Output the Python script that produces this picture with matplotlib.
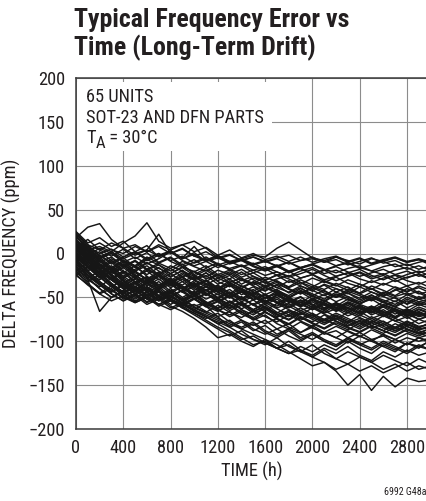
import matplotlib
matplotlib.use("Agg")
import matplotlib.pyplot as plt
from matplotlib.patches import Rectangle

# ---------------- data ----------------
time_h = [0, 100, 200, 300, 400, 500, 600, 700, 800, 900, 1000, 1100, 1200, 1300, 1400,
          1500, 1600, 1700, 1800, 1900, 2000, 2100, 2200, 2300, 2400, 2500, 2600, 2700,
          2800, 2900, 3000]

x_ticks = [0, 400, 800, 1200, 1600, 2000, 2400, 2800]
y_ticks = [-200, -150, -100, -50, 0, 50, 100, 150, 200]
y_tick_labels = ["\u2212200", "\u2212150", "\u2212100", "\u221250", "0", "50", "100", "150", "200"]

units_upper = [
    [18, 30, 34, 16, 6, 10, 2, 8, 0, 5, -3, 2, -6, -2, -8, -4, -9, -5, -2, -8, -6, -10, -4, -8, -12, -6, -9, -5, -10, -7, -11],
    [10, 4, 8, 2, 12, 20, 35, 14, 6, 10, 2, 7, -2, 4, -5, 0, -7, -3, -9, -4, -10, -6, -3, -9, -5, -11, -7, -4, -9, -6, -10],
    [5, 0, -4, 2, -6, 0, 4, -3, 2, -5, 8, -7, -3, -9, -6, -2, -4, 6, 13, 4, -5, -8, -4, -10, -6, -12, -8, -5, -10, -7, -13],
    [15, 6, 12, 4, 0, 8, 2, 10, 4, 10, 14, 6, -5, -1, -8, -4, -10, -6, -12, -8, -4, -10, -7, -13, -9, -5, -11, -8, -14, -10, -7],
    [-5, 8, 0, 5, -4, 2, -8, -2, 3, -6, -1, -9, -5, -11, -7, -13, -9, -14, -10, -16, -12, -8, -14, -11, -17, -13, -9, -15, -12, -18, -14],
    [22, 10, 4, 12, 6, -2, 4, 22, 0, 6, -3, -8, -2, -10, -6, -12, -8, -15, -10, -17, -13, -19, -14, -10, -16, -20, -15, -12, -18, -14, -20],
    [0, -8, -2, -10, -4, 2, -6, 0, -8, -3, -11, -6, -13, -9, -15, -11, -18, -13, -20, -16, -12, -18, -22, -17, -14, -20, -24, -19, -16, -22, -18],
    [10, 2, -6, 0, -10, -4, -12, -6, 2, -8, -14, -9, -16, -11, -7, -14, -19, -15, -21, -17, -23, -19, -15, -21, -26, -22, -18, -24, -20, -26, -22],
    [-10, -2, 6, 0, -8, -14, -6, 0, -9, -15, -10, -4, -12, -17, -13, -19, -15, -21, -26, -20, -16, -23, -19, -25, -21, -27, -23, -29, -24, -20, -26],
    [25, 12, 18, 8, 14, 2, 9, -4, 3, -6, 1, -9, -3, -12, -8, -15, -20, -14, -22, -17, -24, -19, -26, -22, -18, -25, -30, -24, -28, -23, -29],
    [-15, -5, -12, -18, -8, -14, -4, -11, -17, -9, -15, -20, -13, -18, -24, -19, -25, -21, -27, -23, -18, -25, -31, -26, -22, -29, -25, -32, -27, -24, -30],
    [8, 16, 4, -3, 5, -6, 1, -10, -4, -13, -7, -16, -11, -19, -14, -22, -17, -25, -20, -28, -24, -30, -26, -22, -29, -33, -28, -25, -31, -35, -30],
    [-20, -10, -16, -6, -13, -20, -11, -17, -23, -15, -21, -27, -19, -24, -18, -26, -31, -24, -29, -35, -28, -33, -27, -34, -38, -31, -36, -30, -37, -33, -39],
]

units_upper_mid = [
    [12, 0, -10, -4, -14, -8, -18, -11, -5, -15, -21, -14, -24, -19, -27, -22, -30, -25, -33, -28, -24, -32, -37, -30, -35, -41, -34, -39, -44, -37, -42],
    [-8, -18, -12, -22, -16, -8, -18, -24, -14, -20, -26, -19, -28, -23, -31, -26, -34, -29, -25, -33, -38, -31, -36, -42, -35, -40, -46, -38, -43, -39, -45],
    [20, 5, -6, 2, -9, -16, -7, -13, -20, -12, -24, -17, -26, -21, -29, -34, -27, -32, -38, -30, -36, -41, -34, -39, -45, -37, -42, -48, -40, -46, -43],
    [-2, -14, -24, -16, -26, -18, -10, -20, -27, -19, -29, -22, -31, -25, -35, -28, -33, -39, -31, -37, -43, -35, -40, -46, -38, -44, -49, -41, -47, -43, -50],
    [5, -5, 2, -8, -15, -9, -19, -13, -23, -16, -25, -32, -24, -29, -21, -30, -37, -31, -39, -33, -41, -36, -44, -38, -46, -40, -48, -42, -37, -45, -51],
    [-25, -15, -22, -30, -20, -27, -17, -25, -31, -22, -30, -36, -28, -34, -40, -32, -38, -33, -41, -46, -38, -43, -49, -41, -46, -52, -44, -49, -45, -51, -47],
    [15, 3, -8, -18, -10, -20, -14, -24, -17, -27, -20, -29, -24, -33, -28, -36, -31, -39, -44, -37, -42, -48, -40, -45, -51, -44, -49, -55, -47, -52, -48],
    [0, -10, -18, -8, -20, -28, -19, -25, -33, -24, -30, -22, -32, -38, -30, -37, -43, -35, -40, -46, -39, -45, -50, -43, -48, -54, -46, -51, -57, -49, -54],
    [-12, -22, -30, -20, -12, -22, -29, -21, -30, -36, -27, -34, -40, -31, -37, -43, -36, -42, -48, -40, -46, -52, -44, -49, -55, -48, -53, -58, -50, -55, -52],
    [18, 8, -2, -12, -5, -15, -24, -16, -26, -20, -30, -25, -35, -29, -38, -33, -42, -36, -45, -39, -48, -42, -50, -45, -53, -47, -55, -50, -58, -52, -56],
    [-18, -28, -20, -30, -38, -28, -35, -26, -33, -40, -31, -38, -44, -36, -41, -47, -39, -45, -51, -43, -49, -54, -46, -51, -57, -50, -55, -60, -52, -57, -54],
    [6, -4, -14, -24, -16, -26, -20, -30, -23, -32, -26, -35, -41, -33, -40, -46, -38, -44, -50, -42, -48, -55, -47, -53, -58, -50, -56, -61, -54, -59, -56],
    [-5, -16, -8, -19, -28, -20, -31, -24, -34, -27, -37, -31, -40, -35, -44, -38, -47, -41, -50, -44, -52, -47, -55, -49, -57, -52, -60, -54, -62, -56, -60],
]

units_mid = [
    [10, -2, -12, -22, -14, -25, -33, -24, -32, -27, -36, -30, -39, -46, -37, -44, -51, -43, -50, -56, -48, -54, -60, -52, -58, -63, -55, -61, -66, -58, -63],
    [-20, -30, -38, -28, -36, -44, -34, -40, -31, -38, -45, -37, -44, -50, -42, -48, -55, -47, -53, -59, -51, -57, -62, -55, -60, -65, -58, -63, -68, -61, -66],
    [2, -12, -22, -14, -26, -35, -27, -36, -30, -40, -33, -42, -36, -45, -52, -44, -50, -46, -54, -60, -52, -58, -64, -56, -62, -67, -59, -64, -70, -63, -68],
    [-10, -2, -14, -24, -34, -26, -37, -29, -39, -32, -42, -35, -44, -51, -43, -49, -56, -48, -54, -61, -53, -59, -65, -57, -63, -68, -60, -66, -71, -64, -69],
    [14, 2, -9, -19, -28, -20, -30, -38, -30, -40, -34, -43, -37, -47, -40, -49, -55, -47, -56, -50, -58, -64, -56, -62, -68, -60, -66, -72, -64, -70, -67],
    [-15, -25, -35, -44, -34, -42, -33, -41, -35, -44, -38, -47, -41, -50, -44, -53, -47, -56, -50, -59, -53, -62, -56, -65, -59, -67, -61, -69, -63, -71, -66],
    [24, 10, -4, -16, -8, -20, -30, -22, -34, -26, -38, -31, -43, -36, -47, -41, -51, -45, -55, -49, -59, -53, -62, -57, -65, -60, -68, -63, -71, -66, -72],
    [-3, -15, -27, -19, -31, -41, -32, -24, -35, -44, -36, -46, -40, -49, -43, -52, -46, -55, -61, -53, -59, -65, -57, -63, -69, -61, -67, -73, -65, -70, -68],
    [8, -6, -18, -10, -22, -14, -26, -36, -28, -38, -46, -38, -47, -41, -51, -45, -54, -60, -52, -58, -64, -56, -62, -68, -60, -66, -72, -64, -69, -75, -70],
    [-22, -32, -24, -35, -45, -37, -47, -40, -30, -40, -48, -42, -50, -44, -53, -47, -56, -50, -59, -53, -62, -56, -65, -59, -67, -62, -70, -64, -72, -67, -73],
    [4, -8, -20, -30, -22, -33, -26, -38, -31, -41, -35, -45, -52, -44, -52, -58, -50, -56, -62, -55, -61, -67, -59, -65, -71, -63, -69, -74, -66, -72, -69],
    [-8, -20, -12, -25, -37, -29, -40, -32, -43, -37, -47, -41, -51, -45, -55, -49, -58, -52, -61, -56, -64, -58, -66, -61, -69, -63, -71, -66, -74, -68, -75],
    [16, 4, -8, -20, -12, -24, -34, -26, -37, -29, -40, -48, -40, -49, -43, -53, -47, -57, -51, -60, -55, -63, -58, -67, -61, -70, -64, -72, -67, -75, -71],
]

units_lower_mid = [
    [-12, -24, -34, -44, -36, -46, -38, -48, -40, -50, -43, -52, -46, -56, -49, -59, -53, -62, -57, -65, -60, -68, -63, -71, -66, -74, -69, -77, -72, -80, -75],
    [6, -6, -18, -30, -40, -32, -42, -35, -45, -38, -48, -41, -51, -58, -50, -59, -65, -57, -64, -70, -62, -69, -75, -67, -73, -79, -71, -77, -82, -75, -80],
    [-4, -16, -28, -20, -32, -42, -34, -44, -50, -42, -52, -46, -55, -49, -59, -53, -62, -68, -60, -67, -73, -65, -72, -78, -70, -76, -82, -74, -80, -85, -78],
    [20, 6, -6, -18, -28, -38, -30, -40, -33, -44, -52, -45, -54, -48, -58, -64, -56, -63, -70, -62, -69, -75, -68, -74, -80, -72, -78, -84, -77, -83, -81],
    [-18, -28, -40, -50, -42, -34, -44, -52, -45, -54, -48, -57, -51, -60, -55, -64, -58, -67, -72, -65, -71, -77, -70, -76, -82, -74, -80, -86, -78, -84, -80],
    [0, -12, -24, -36, -46, -38, -48, -40, -50, -56, -48, -58, -52, -62, -56, -66, -60, -69, -75, -67, -73, -79, -72, -78, -84, -77, -83, -88, -81, -86, -83],
    [-25, -35, -45, -37, -47, -55, -46, -54, -48, -57, -51, -60, -54, -63, -57, -66, -61, -70, -65, -74, -68, -76, -71, -79, -74, -82, -77, -85, -80, -87, -84],
    [12, 0, -14, -26, -36, -46, -38, -48, -42, -52, -45, -55, -62, -54, -63, -57, -67, -73, -65, -72, -78, -70, -77, -83, -76, -82, -88, -80, -86, -91, -85],
    [-6, -20, -32, -42, -50, -42, -52, -44, -54, -60, -52, -61, -55, -65, -59, -68, -63, -72, -67, -76, -70, -79, -74, -82, -77, -85, -80, -88, -83, -90, -86],
    [8, -5, -18, -28, -20, -32, -42, -50, -43, -53, -46, -56, -63, -55, -64, -70, -62, -70, -76, -68, -75, -81, -74, -80, -86, -79, -85, -90, -83, -88, -92],
    [-14, -26, -36, -46, -54, -46, -55, -48, -58, -51, -61, -67, -59, -67, -73, -65, -72, -78, -70, -77, -83, -75, -81, -87, -79, -85, -91, -84, -89, -94, -88],
    [2, -10, -22, -34, -44, -52, -44, -53, -47, -57, -64, -56, -65, -59, -69, -75, -67, -74, -80, -72, -79, -85, -77, -84, -89, -82, -88, -93, -86, -91, -95],
    [-2, -15, -27, -38, -30, -42, -50, -43, -53, -59, -51, -60, -66, -58, -67, -73, -66, -75, -81, -73, -80, -86, -79, -85, -90, -83, -88, -94, -87, -92, -89],
]

units_low = [
    [-5, -30, -66, -50, -42, -48, -40, -50, -44, -54, -48, -58, -64, -72, -66, -76, -70, -80, -86, -78, -85, -90, -83, -89, -95, -87, -93, -98, -91, -96, -100],
    [10, -4, -18, -30, -40, -34, -44, -38, -48, -42, -52, -60, -72, -84, -92, -98, -102, -108, -114, -110, -118, -124, -134, -150, -138, -156, -140, -152, -142, -146, -144],
    [-20, -34, -46, -40, -52, -46, -56, -50, -60, -66, -74, -84, -96, -92, -100, -106, -98, -108, -104, -112, -118, -110, -120, -126, -118, -124, -132, -126, -134, -128, -132],
    [0, -14, -26, -38, -48, -42, -52, -58, -52, -62, -70, -78, -86, -94, -88, -98, -104, -96, -106, -112, -104, -114, -120, -112, -118, -124, -116, -122, -128, -120, -126],
    [16, 2, -12, -24, -34, -44, -38, -48, -54, -60, -68, -76, -84, -90, -98, -94, -102, -108, -100, -110, -116, -108, -114, -106, -116, -122, -112, -118, -110, -116, -112],
    [-10, -22, -34, -46, -54, -48, -58, -52, -62, -56, -66, -72, -80, -88, -96, -104, -100, -108, -114, -106, -112, -104, -110, -100, -108, -114, -104, -110, -102, -106, -100],
    [4, -8, -22, -34, -44, -38, -48, -42, -52, -58, -64, -72, -80, -76, -86, -80, -90, -96, -88, -98, -92, -100, -106, -96, -104, -98, -106, -112, -102, -108, -98],
    [-16, -28, -40, -50, -44, -54, -48, -58, -64, -58, -66, -72, -78, -84, -78, -88, -82, -92, -86, -96, -90, -98, -104, -96, -102, -108, -100, -106, -112, -104, -110],
    [22, 8, -6, -18, -30, -40, -48, -42, -52, -58, -64, -70, -76, -82, -76, -86, -92, -86, -94, -100, -92, -100, -106, -98, -104, -110, -102, -108, -114, -106, -110],
    [-8, -20, -32, -42, -50, -56, -50, -58, -52, -62, -68, -74, -68, -78, -84, -78, -88, -94, -86, -92, -98, -90, -96, -102, -94, -100, -106, -98, -104, -96, -102],
    [6, -6, -18, -30, -40, -50, -44, -54, -48, -56, -62, -68, -74, -80, -86, -92, -98, -104, -112, -120, -128, -124, -132, -126, -134, -128, -136, -130, -124, -132, -128],
    [-24, -36, -46, -54, -48, -56, -50, -60, -54, -62, -58, -66, -72, -66, -76, -82, -76, -86, -80, -90, -84, -92, -88, -96, -90, -98, -94, -102, -96, -100, -96],
    [12, -2, -16, -28, -38, -46, -40, -50, -44, -54, -60, -56, -64, -70, -64, -74, -80, -74, -84, -90, -82, -90, -96, -88, -94, -100, -92, -98, -104, -96, -92],
]

# ---------------- figure ----------------
plt.rcParams["font.family"] = ["Roboto Condensed", "Archivo Narrow", "DejaVu Sans"]
TXT = "#231f20"
FS = 13.2

W, H = 427, 501
fig = plt.figure(figsize=(W / 100, H / 100), dpi=100)

ax_left, ax_right, ax_top, ax_bottom = 76, 430.6, 78, 429
ax = fig.add_axes([ax_left / W, (H - ax_bottom) / H, (ax_right - ax_left) / W, (ax_bottom - ax_top) / H])

for group in (units_upper, units_upper_mid, units_mid, units_lower_mid, units_low):
    for series in group:
        ax.plot(time_h, series, color="#161616", lw=1.05, zorder=3, solid_joinstyle="round")

ax.set_xlim(0, 3000)
ax.set_ylim(-200, 200)
ax.set_xticks(x_ticks)
ax.set_xticklabels([str(v) for v in x_ticks])
ax.set_yticks(y_ticks)
ax.set_yticklabels(y_tick_labels)
ax.tick_params(axis="both", length=0, labelsize=FS, colors=TXT)
ax.tick_params(axis="x", pad=7)
ax.tick_params(axis="y", pad=8)
ax.grid(True, color="#8c8c8c", lw=0.8, zorder=0)
ax.set_axisbelow(True)

for side in ("left", "bottom", "top"):
    ax.spines[side].set_color("#3a3a3a")
    ax.spines[side].set_linewidth(1.1)
ax.spines["right"].set_visible(False)

# white box behind the annotation text
box = Rectangle((0.003, 0.792), 0.55, 0.197, transform=ax.transAxes,
                facecolor="white", edgecolor="none", zorder=1)
ax.add_patch(box)

tx = (86 - ax_left) / (ax_right - ax_left)
def yb(py):
    return (ax_bottom - py) / (ax_bottom - ax_top)

ax.text(tx, yb(101.7), "65 UNITS", transform=ax.transAxes, fontsize=FS,
        va="baseline", ha="left", color=TXT, zorder=4)
ax.text(tx, yb(123), "SOT-23 AND DFN PARTS", transform=ax.transAxes, fontsize=FS,
        va="baseline", ha="left", color=TXT, zorder=4)
t1 = ax.text(tx, yb(143), "T", transform=ax.transAxes, fontsize=FS,
             va="baseline", ha="left", color=TXT, zorder=4)
t2 = ax.annotate("A", xy=(1, 0), xycoords=t1, xytext=(0, -3.2), textcoords="offset points",
                 fontsize=FS - 1, va="bottom", ha="left", color=TXT, zorder=4)
ax.annotate(" = 30\u00b0C", xy=(1, 0), xycoords=t2, xytext=(0, 3.2), textcoords="offset points",
            fontsize=FS, va="bottom", ha="left", color=TXT, zorder=4)

# titles
fig.text(74 / W, (H - 26.7) / H, "Typical Frequency Error vs", fontsize=18.6,
         fontweight="bold", ha="left", va="baseline", color=TXT)
fig.text(74 / W, (H - 55.5) / H, "Time (Long-Term Drift)", fontsize=18.6,
         fontweight="bold", ha="left", va="baseline", color=TXT)

# axis labels
fig.text(252 / W, (H - 477) / H, "TIME (h)", fontsize=FS, ha="center", va="baseline",
         color=TXT)
fig.text(11 / W, (H - 253.5) / H, "DELTA FREQUENCY (ppm)", fontsize=FS, rotation=90,
         ha="center", va="center", color=TXT)
fig.text(427 / W, (H - 495) / H, "6992 G48a", fontsize=7.2, ha="right", va="baseline",
         color=TXT)

fig.savefig("out.png", dpi=100)
